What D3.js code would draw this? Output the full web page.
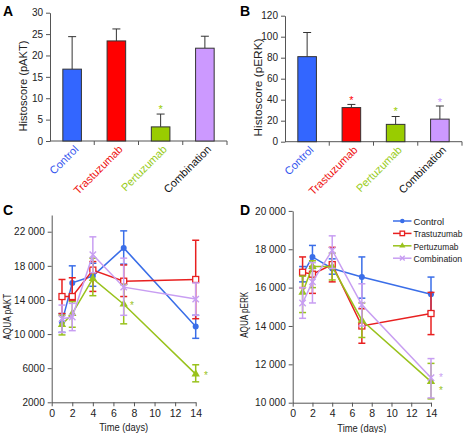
<!DOCTYPE html>
<html><head><meta charset="utf-8">
<script src="https://cdn.jsdelivr.net/npm/d3@7"></script>
<style>body{margin:0;background:#fff}svg{display:block;font-family:"Liberation Sans",Arial,sans-serif}</style>
</head><body><svg id="c" width="471" height="433"></svg>
<script>
const categories = ["Control","Trastuzumab","Pertuzumab","Combination"];
const colors = ["#3366ff","#ff0000","#99cc00","#cc99ff"];
const lineColors = ["#3a6ee8","#e82020","#99c21c","#c89ef2"];
const labelColors = ["#3355ee","#ee1111","#99cc22","#111111"];
// Panel A
const aktValues = [16.8, 23.4, 3.3, 21.7];
const aktErr = [24.4, 26.2, 6.3, 24.5];
const aktTicks = [0,5,10,15,20,25,30];
const aktStars = [null, null, 8, null];
// Panel B
const erkValues = [81, 32.5, 16.5, 21.5];
const erkErr = [104, 35.5, 24, 34];
const erkTicks = [0,20,40,60,80,100,120];
const erkStars = [null, 42, 31, 40];
// Panels C,D
const days = [1,2,4,7,14];
const dayTicks = [0,2,4,6,8,10,12,14];
const aquaAKT = [
  [11400,16000,16800,20100,10900],
  [14400,14400,17500,16200,16400],
  [11100,12400,16500,13500,5300],
  [11800,12000,19300,15500,14100]];
const aquaAKTlo = [
  [10200,14000,15600,18200,9500],
  [12400,13900,15000,14400,11800],
  [9900,10800,14500,11200,4400],
  [10200,10400,17200,12200,12200]];
const aquaAKThi = [
  [12400,18000,18300,22100,12200],
  [16400,16600,18500,18100,21000],
  [12200,13800,18900,15800,6400],
  [13400,13600,21400,18900,16000]];
const aktAxisTicks = [2000,6000,10000,14000,18000,22000];
const aquaERK = [
  [16700,17600,17000,16550,15650],
  [16800,16700,17200,14000,14650],
  [15750,17100,17100,14300,11100],
  [15200,16300,17950,15100,11300]];
const aquaERKlo = [
  [16300,17000,16700,15450,14750],
  [16000,15700,16300,13100,13550],
  [14700,16000,16400,13400,10200],
  [14400,15200,17000,14000,10250]];
const aquaERKhi = [
  [17100,18200,17500,17600,16550],
  [17600,17100,18100,14900,15750],
  [16600,17400,17800,15200,12050],
  [16000,17300,18700,16200,12300]];
const erkAxisTicks = [10000,12000,14000,16000,18000,20000];
const cStars = [{d:7.8,v:13500,c:2},{d:15,v:5300,c:2}];
const dStars = [{d:15,v:11400,c:3},{d:15,v:10700,c:2}];

const svg = d3.select("#c");
const fmtSp = v => v >= 10000 ? (Math.floor(v/1000)) + " " + String(v%1000).padStart(3,"0") : String(v);

function panelLetter(t,x,y){svg.append("text").attr("x",x).attr("y",y).attr("font-weight","bold").attr("font-size",14).text(t);}
panelLetter("A",3,16);panelLetter("B",240,16);panelLetter("C",3,215);panelLetter("D",240,215);

function styleAxis(g,fs){
  g.selectAll("path,line").attr("stroke","#555");
  g.selectAll("text").attr("font-size",fs).attr("fill","#222").attr("font-family","Liberation Sans, Arial, sans-serif");
}

function barPanel(x0,x1,yTop,yBot,vals,errs,ticks,stars,label,labY,labLen){
  const g = svg.append("g");
  const x = d3.scaleBand().domain(categories).range([x0,x1]).paddingInner(0.58).paddingOuter(0.29);
  const y = d3.scaleLinear().domain([ticks[0],ticks[ticks.length-1]]).range([yBot,yTop]);
  const ya = g.append("g").attr("transform",`translate(${x0},0)`).call(d3.axisLeft(y).tickValues(ticks).tickSize(4).tickSizeOuter(0));
  styleAxis(ya,10);
  const bw = (x1-x0)/categories.length;
  g.append("line").attr("x1",x0).attr("x2",x1).attr("y1",yBot).attr("y2",yBot).attr("stroke","#555");
  for(let i=1;i<=categories.length;i++) g.append("line").attr("x1",x0+bw*i).attr("x2",x0+bw*i).attr("y1",yBot).attr("y2",yBot+4).attr("stroke","#555");
  categories.forEach((c,i)=>{
    const cx = x(c)+x.bandwidth()/2;
    g.append("line").attr("x1",cx).attr("x2",cx).attr("y1",y(vals[i])).attr("y2",y(errs[i])).attr("stroke","#333").attr("stroke-width",1);
    g.append("line").attr("x1",cx-4).attr("x2",cx+4).attr("y1",y(errs[i])).attr("y2",y(errs[i])).attr("stroke","#333");
    g.append("rect").attr("x",x(c)).attr("width",x.bandwidth()).attr("y",y(vals[i])).attr("height",yBot-y(vals[i]))
      .attr("fill",colors[i]).attr("stroke","#333").attr("stroke-width",1);
    if(stars[i]!=null) g.append("text").attr("x",cx).attr("y",y(stars[i])+6).attr("text-anchor","middle").attr("font-size",11).attr("fill",colors[i]).text("*");
    g.append("text").attr("transform",`translate(${cx+7},${yBot+9}) rotate(-45)`).attr("text-anchor","end")
      .attr("font-size",11).attr("fill",labelColors[i]).text(c);
  });
  g.append("text").attr("transform",`translate(${x0-23},${labY}) rotate(-90)`).attr("text-anchor","middle").attr("font-size",10.5)
    .attr("textLength",labLen).attr("lengthAdjust","spacingAndGlyphs").attr("fill","#222").text(label);
}
barPanel(50,227,12.7,141,aktValues,aktErr,aktTicks,aktStars,"Histoscore (pAKT)",86,91);
barPanel(285,462,15.7,141.7,erkValues,erkErr,erkTicks,erkStars,"Histoscore (pERK)",87.5,98);

function drawMarker(p,k,col,s=1){
  if(k===0) p.append("circle").attr("r",3*s).attr("fill",col);
  else if(k===1) p.append("rect").attr("x",-3*s).attr("y",-3*s).attr("width",6*s).attr("height",6*s).attr("fill","#fff").attr("stroke",col).attr("stroke-width",1.3);
  else if(k===2) p.append("path").attr("d",d3.symbol(d3.symbolTriangle,30*s*s)()).attr("fill",col);
  else { const r=3.2*s; p.append("path").attr("d",`M${-r},${-r}L${r},${r}M${-r},${r}L${r},${-r}`).attr("stroke",col).attr("stroke-width",1.4); }
}

const legendLens = [30.7,49,45,48.7];
function linePanel(x0,x1,yTop,yBot,yDom,vals,lo,hi,yTicks,stars,label,ylabX,legend){
  const g = svg.append("g");
  const x = d3.scaleLinear().domain([0,14]).range([x0,x1]);
  const y = d3.scaleLinear().domain(yDom).range([yBot,yTop]);
  const ya = g.append("g").attr("transform",`translate(${x0},0)`).call(d3.axisLeft(y).tickValues(yTicks).tickFormat(fmtSp).tickSize(4).tickSizeOuter(0));
  styleAxis(ya,10);
  const xa = g.append("g").attr("transform",`translate(0,${yBot})`).call(d3.axisBottom(x).tickValues(dayTicks).tickSize(4).tickSizeOuter(0));
  styleAxis(xa,10.5);
  g.append("text").attr("x",(x0+x1)/2).attr("y",yBot+29).attr("text-anchor","middle").attr("font-size",10.5)
    .attr("textLength",49).attr("lengthAdjust","spacingAndGlyphs").attr("fill","#222").text("Time (days)");
  g.append("text").attr("transform",`translate(${ylabX},${(yTop+yBot)/2+8}) rotate(-90)`).attr("text-anchor","middle").attr("font-size",10.5)
    .attr("textLength",46).attr("lengthAdjust","spacingAndGlyphs").attr("fill","#222").text(label);
  const line = d3.line().x((d,i)=>x(days[i])).y(d=>y(d));
  vals.forEach((s,k)=>{
    const col = lineColors[k];
    s.forEach((v,i)=>{
      const cx=x(days[i]);
      g.append("line").attr("x1",cx).attr("x2",cx).attr("y1",y(lo[k][i])).attr("y2",y(hi[k][i])).attr("stroke",col).attr("stroke-width",1.5);
      [lo[k][i],hi[k][i]].forEach(e=>g.append("line").attr("x1",cx-3.5).attr("x2",cx+3.5).attr("y1",y(e)).attr("y2",y(e)).attr("stroke",col).attr("stroke-width",1.5));
    });
    g.append("path").attr("d",line(s)).attr("fill","none").attr("stroke",col).attr("stroke-width",1.5);
    s.forEach((v,i)=>drawMarker(g.append("g").attr("transform",`translate(${x(days[i])},${y(v)})`),k,col));
  });
  stars.forEach(st=>g.append("text").attr("x",x(st.d)).attr("y",y(st.v)+5).attr("text-anchor","middle").attr("font-size",10).attr("fill",lineColors[st.c]).text("*"));
  if(legend){
    categories.forEach((c,k)=>{
      const ly = 221 + k*12.4;
      g.append("line").attr("x1",393).attr("x2",411.5).attr("y1",ly).attr("y2",ly).attr("stroke",lineColors[k]).attr("stroke-width",1.5);
      drawMarker(g.append("g").attr("transform",`translate(402.3,${ly})`),k,lineColors[k],0.75);
      g.append("text").attr("x",413.5).attr("y",ly+3.8).attr("font-size",9.5).attr("textLength",legendLens[k])
        .attr("lengthAdjust","spacingAndGlyphs").attr("fill","#222").text(c);
    });
  }
}
linePanel(51.7,195.7,215,402.3,[2000,23960],aquaAKT,aquaAKTlo,aquaAKThi,aktAxisTicks,cStars,"AQUA pAKT",11,false);
linePanel(292.7,431,210.9,402.7,[10000,20000],aquaERK,aquaERKlo,aquaERKhi,erkAxisTicks,dStars,"AQUA pERK",248,true);
</script></body></html>
